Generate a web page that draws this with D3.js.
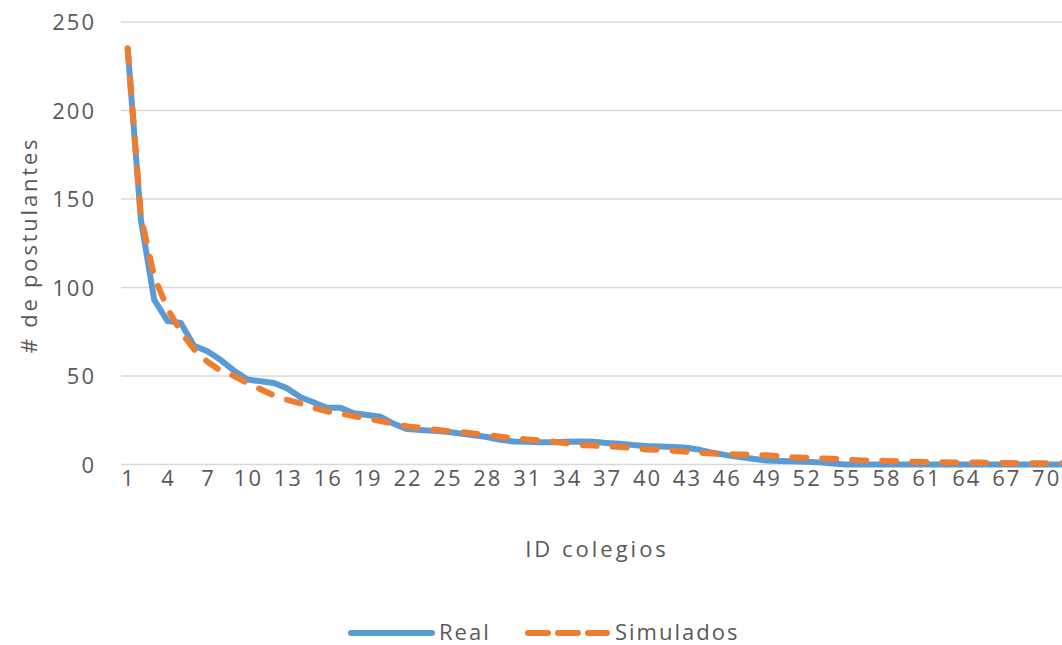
<!DOCTYPE html>
<html>
<head>
<meta charset="utf-8">
<script src="https://cdn.jsdelivr.net/npm/d3@7"></script>
<style>
  html, body { margin: 0; padding: 0; background: #fff; }
  svg { display: block; }
  text { font-family: "Open Sans", "Noto Sans", sans-serif; fill: #595959; }
</style>
</head>
<body>
<svg id="chart" width="1062" height="645"></svg>
<script>
const categories = d3.range(1, 73); // ID colegios 1..72
const real = [235, 138, 93, 81, 80, 67, 64, 59, 53, 48,
  47, 46, 43, 38, 35, 32, 32, 29, 28, 27,
  23, 20, 19.5, 19, 18.5, 17.5, 16.5, 15.5, 14, 13,
  12.8, 12.6, 12.6, 12.8, 13, 12.8, 12.2, 11.7, 11, 10.5,
  10.2, 9.9, 9.5, 8.3, 6.6, 5.3, 4.2, 3.2, 2.3, 2,
  1.8, 1.5, 1.2, 0.5, 0, 0, 0, 0, 0, 0,
  0, 0, 0, 0, 0, 0, 0, 0, 0, 0,
  0, 0];
const simulados = [235, 140, 106, 88, 75, 65, 58, 53, 50, 46,
  42.5, 39, 36.5, 34.5, 32, 30, 28.8, 27.3, 26, 24.5,
  23, 21.5, 20.7, 19.8, 19, 18.5, 17.5, 16.7, 15.7, 14.8,
  14.2, 13.5, 12.9, 12, 11, 10.7, 10.3, 9.9, 9.2, 8.5,
  8.3, 7.8, 7.2, 6.6, 6.2, 5.9, 5.7, 5.5, 5.2, 4.6,
  4.1, 3.8, 3.5, 3.2, 2.8, 2.4, 2.2, 2, 1.8, 1.6,
  1.4, 1.3, 1.2, 1.2, 1.1, 0.9, 0.8, 0.7, 0.7, 0.7,
  0.7, 0.6];
const yTicks = [0, 50, 100, 150, 200, 250];
const xTickLabels = categories.filter(d => (d - 1) % 3 === 0);
const seriesNames = ["Real", "Simulados"];

const svg = d3.select("#chart");
const step = 13.304;
const x = d3.scaleBand().domain(categories).range([121, 121 + categories.length * step]).padding(0);
const xc = d => x(d) + x.bandwidth() / 2;
const y = d3.scaleLinear().domain([0, 250]).range([464.5, 22]);
const FS = 22, LS = 2;

// gridlines
svg.append("g").selectAll("line").data(yTicks).join("line")
  .attr("x1", 121).attr("x2", 1062)
  .attr("y1", d => y(d)).attr("y2", d => y(d))
  .attr("stroke", "#d9d9d9").attr("stroke-width", 1.5);

// y axis labels
const yAxis = d3.axisLeft(y).tickValues(yTicks).tickSize(0).tickPadding(0);
const gy = svg.append("g").attr("transform", "translate(96,0)").call(yAxis);
gy.select(".domain").remove();
gy.selectAll("text").attr("font-size", FS).attr("fill", "#595959")
  .style("letter-spacing", LS + "px")
  .style("font-family", '"Open Sans", sans-serif').attr("dy", "0.35em");

// x axis labels
const xAxis = d3.axisBottom(x).tickValues(xTickLabels).tickSize(0).tickPadding(0);
const gx = svg.append("g").attr("transform", "translate(1,465)").call(xAxis);
gx.select(".domain").remove();
gx.selectAll("text").attr("font-size", FS).attr("fill", "#595959")
  .style("letter-spacing", LS + "px")
  .style("font-family", '"Open Sans", sans-serif').attr("dy", "0.95em");

// axis titles
svg.append("text").attr("x", 597).attr("y", 557).attr("text-anchor", "middle")
  .attr("font-size", FS).style("letter-spacing", "3px").text("ID colegios");
svg.append("text").attr("transform", "translate(37,245) rotate(-90)")
  .attr("text-anchor", "middle").attr("font-size", FS)
  .style("letter-spacing", "2.8px").text("# de postulantes");

const line = d3.line().x((d, i) => xc(categories[i])).y(d => y(d));

svg.append("path").datum(real)
  .attr("fill", "none").attr("stroke", "#5B9BD5").attr("stroke-width", 6)
  .attr("stroke-linejoin", "round").attr("stroke-linecap", "round")
  .attr("d", line);

svg.append("path").datum(simulados)
  .attr("fill", "none").attr("stroke", "#ED7D31").attr("stroke-width", 6)
  .attr("stroke-linejoin", "round").attr("stroke-linecap", "round")
  .attr("stroke-dasharray", "14 16")
  .attr("d", line);

// legend
const lg = svg.append("g");
lg.append("line").attr("x1", 351).attr("x2", 432).attr("y1", 633).attr("y2", 633)
  .attr("stroke", "#5B9BD5").attr("stroke-width", 6).attr("stroke-linecap", "round");
lg.append("text").attr("x", 439).attr("y", 640).attr("font-size", FS)
  .style("letter-spacing", LS + "px").text(seriesNames[0]);
lg.append("line").attr("x1", 528).attr("x2", 607).attr("y1", 633).attr("y2", 633)
  .attr("stroke", "#ED7D31").attr("stroke-width", 6).attr("stroke-linecap", "round")
  .attr("stroke-dasharray", "20 10");
lg.append("text").attr("x", 615).attr("y", 640).attr("font-size", FS)
  .style("letter-spacing", LS + "px").text(seriesNames[1]);
</script>
</body>
</html>
